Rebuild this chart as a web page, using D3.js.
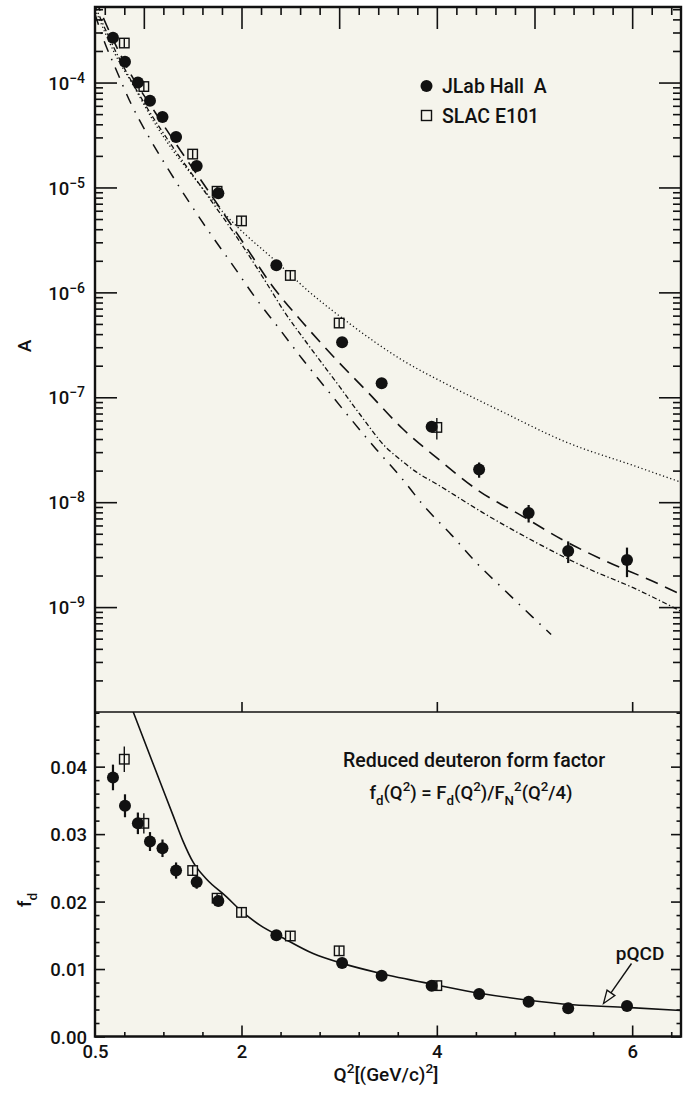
<!DOCTYPE html>
<html>
<head>
<meta charset="utf-8">
<script src="https://cdn.jsdelivr.net/npm/d3@7"></script>
<style>
  body { margin: 0; background: #ffffff; }
  svg text { font-family: Roboto, "DejaVu Sans", sans-serif; font-weight: 500; fill: #111; }
</style>
</head>
<body>
<svg id="chart" width="684" height="1093"></svg>
<script>
// ---- measured data: JLab Hall A ----
const jlabQ2   = [0.684, 0.807, 0.939, 1.063, 1.191, 1.330, 1.541, 1.763, 2.357, 3.030, 3.435, 3.947, 4.433, 4.940, 5.345, 5.947];
const jlabA    = [2.67e-4, 1.58e-4, 1.0e-4, 6.7e-5, 4.7e-5, 3.03e-5, 1.60e-5, 8.8e-6, 1.81e-6, 3.35e-7, 1.36e-7, 5.24e-8, 2.05e-8, 7.9e-9, 3.43e-9, 2.81e-9];
const jlabAErr = [1.2e-5, 7e-6, 4e-6, 2.8e-6, 2e-6, 1.3e-6, 7e-7, 4e-7, 8e-8, 1.6e-8, 7e-9, 4e-9, 3.4e-9, 1.5e-9, 0.8e-9, 0.88e-9];
const jlabFd    = [0.0384, 0.0342, 0.0316, 0.0289, 0.0279, 0.0246, 0.0229, 0.0201, 0.0150, 0.0109, 0.0090, 0.00754, 0.0063, 0.00516, 0.00418, 0.00453];
const jlabFdErr = [0.0019, 0.0017, 0.0016, 0.0014, 0.0013, 0.0012, 0.0010, 0.0008, 0.0005, 0.0004, 0.0004, 0.0004, 0.0004, 0.0004, 0.0004, 0.0005];

// ---- measured data: SLAC E101 ----
const slacQ2    = [0.8, 1.0, 1.5, 1.75, 2.0, 2.5, 3.0, 4.0];
const slacA     = [2.38e-4, 9.16e-5, 2.08e-5, 9.2e-6, 4.8e-6, 1.45e-6, 5.1e-7, 5.16e-8];
const slacAErr  = [8e-6, 3e-6, 7e-7, 3e-7, 1.5e-7, 5e-8, 2e-8, 1.2e-8];
const slacFd    = [0.0411, 0.0316, 0.0246, 0.0205, 0.0184, 0.0149, 0.0127, 0.00754];
const slacFdErr = [0.0019, 0.0015, 0.0006, 0.0005, 0.0004, 0.0004, 0.0004, 0.0003];

// ---- model curves for A(Q^2) ----
const dottedQ2 = [0.5, 0.7, 0.9, 1.1, 1.3, 1.5, 1.7, 1.94, 2.36, 2.70, 3.11, 3.62, 4.13, 4.63, 5.33, 6.01, 6.5];
const dottedA  = [5.01e-4, 1.91e-4, 9.12e-5, 4.27e-5, 2.24e-5, 1.29e-5, 7.59e-6, 4.37e-6, 1.95e-6, 1.00e-6, 5.01e-7, 2.34e-7, 1.29e-7, 7.59e-8, 3.72e-8, 2.24e-8, 1.55e-8];

const dashedQ2 = [0.5, 0.7, 0.83, 1.12, 1.37, 1.71, 2.02, 2.31, 2.62, 2.96, 3.30, 3.65, 4.03, 4.42, 4.87, 5.29, 5.75, 6.20, 6.5];
const dashedA  = [6.31e-4, 2.40e-4, 1.38e-4, 5.13e-5, 2.29e-5, 7.94e-6, 2.95e-6, 1.17e-6, 5.25e-7, 2.34e-7, 1.10e-7, 5.01e-8, 2.51e-8, 1.30e-8, 7.41e-9, 4.37e-9, 2.69e-9, 1.78e-9, 1.32e-9];

const dashDotDotQ2 = [0.5, 0.7, 1.0, 1.3, 1.6, 2.0, 2.26, 2.43, 2.70, 3.01, 3.21, 3.48, 3.62, 3.77, 4.03, 4.47, 5.05, 5.53, 6.01, 6.5];
const dashDotDotA  = [5.37e-4, 2.09e-4, 6.46e-5, 2.40e-5, 9.77e-6, 2.88e-6, 1.21e-6, 6.73e-7, 3.01e-7, 1.24e-7, 6.93e-8, 3.33e-8, 2.57e-8, 2.00e-8, 1.43e-8, 7.96e-9, 3.97e-9, 2.37e-9, 1.53e-9, 9.12e-10];

const dashDotQ2 = [0.5, 0.6, 0.71, 0.87, 1.055, 1.254, 1.469, 1.687, 1.919, 2.137, 2.382, 2.621, 2.870, 3.119, 3.372, 3.627, 3.876, 4.149, 4.415, 4.694, 4.978, 5.17];
const dashDotA  = [4.47e-4, 2.40e-4, 1.37e-4, 6.25e-5, 2.99e-5, 1.47e-5, 7.13e-6, 3.56e-6, 1.77e-6, 9.02e-7, 4.56e-7, 2.33e-7, 1.20e-7, 6.21e-8, 3.25e-8, 1.75e-8, 9.02e-9, 4.88e-9, 2.59e-9, 1.45e-9, 8.07e-10, 5.48e-10];

// ---- pQCD curve for the reduced form factor ----
const pqcdQ2 = [0.85, 0.892, 1.029, 1.165, 1.301, 1.40, 1.506, 1.643, 1.847, 1.983, 2.188, 2.426, 2.733, 3.040, 3.416, 3.996, 4.439, 4.917, 5.394, 5.940, 6.5];
const pqcdFd = [0.0497, 0.0481, 0.0429, 0.0378, 0.0327, 0.0290, 0.0258, 0.0233, 0.0207, 0.0188, 0.0165, 0.0146, 0.0123, 0.0108, 0.00938, 0.00764, 0.00641, 0.00542, 0.00470, 0.00432, 0.00386];

// ---- axis ticks ----
const aMajorTicks  = [1e-9, 1e-8, 1e-7, 1e-6, 1e-5, 1e-4];
const fdMajorTicks = [0, 0.01, 0.02, 0.03, 0.04];
const fdTickLabels = ["0.00", "0.01", "0.02", "0.03", "0.04"];
const q2LabelTicks = [0.5, 2, 4, 6];
const q2TickLabels = ["0.5", "2", "4", "6"];

// ---- layout ----
const L = 95, R = 681, TOP = 7, MID = 712, BOT = 1036.5;
const BG = "#f5f4ec";

const svg = d3.select("#chart");

const x  = d3.scaleLinear().domain([0.5, 6.5]).range([L, R]);
const yA = d3.scaleLog().domain([1e-10, 5.25e-4]).range([MID, TOP]);
const yF = d3.scaleLinear().domain([0, 0.0481]).range([BOT, MID]);

svg.append("rect").attr("x", L).attr("y", TOP).attr("width", R - L).attr("height", BOT - TOP).attr("fill", BG);

const defs = svg.append("defs");
defs.append("clipPath").attr("id", "clipTop").append("rect")
  .attr("x", L).attr("y", TOP).attr("width", R - L).attr("height", MID - TOP);
defs.append("clipPath").attr("id", "clipBot").append("rect")
  .attr("x", L).attr("y", MID).attr("width", R - L).attr("height", BOT - MID);

// ---- helpers ----
function styleAxis(g, w) {
  g.select(".domain").remove();
  g.selectAll(".tick line").attr("stroke", "#111").attr("stroke-width", w || 1.6);
}
function rich(t, parts, fs) {
  let cur = 0;
  parts.forEach(([s, k]) => {
    const target = k === "sub" ? 0.32 * fs : k === "sup" ? -0.42 * fs : 0;
    const ts = t.append("tspan").text(s).attr("dy", target - cur);
    if (k) ts.attr("font-size", (fs * 0.72) + "px");
    cur = target;
  });
}

// ---- top panel axes ----
const aMinor = yA.ticks().filter(v => aMajorTicks.indexOf(v) < 0 && Math.abs(Math.log10(v) - Math.round(Math.log10(v))) > 1e-6);
const q2Minor02 = d3.range(3, 33).map(k => k * 0.2).filter(v => Math.abs(v - Math.round(v)) > 1e-6);
const q2Int = [1, 2, 3, 4, 5, 6];

svg.append("g").attr("transform", `translate(${L},0)`)
  .call(d3.axisLeft(yA).tickValues(aMinor).tickSize(-8).tickSizeOuter(0).tickFormat(""))
  .call(styleAxis);
const gAL = svg.append("g").attr("transform", `translate(${L},0)`)
  .call(d3.axisLeft(yA).tickValues(aMajorTicks).tickSize(-22).tickSizeOuter(0).tickPadding(10))
  .call(styleAxis);
gAL.selectAll(".tick text").each(function (d) {
  const t = d3.select(this).text(null).attr("font-size", "18.5px").attr("font-family", null).attr("fill", "#111").attr("dy", "0.36em");
  t.append("tspan").text("10");
  t.append("tspan").attr("dy", "-0.5em").attr("font-size", "14px").text("\u2212" + Math.round(-Math.log10(d)));
});
svg.append("g").attr("transform", `translate(${R},0)`)
  .call(d3.axisRight(yA).tickValues(aMinor).tickSize(-8).tickSizeOuter(0).tickFormat(""))
  .call(styleAxis);
svg.append("g").attr("transform", `translate(${R},0)`)
  .call(d3.axisRight(yA).tickValues(aMajorTicks).tickSize(-22).tickSizeOuter(0).tickFormat(""))
  .call(styleAxis);
svg.append("g").attr("transform", `translate(0,${TOP})`)
  .call(d3.axisTop(x).tickValues(q2Minor02).tickSize(-8).tickSizeOuter(0).tickFormat(""))
  .call(styleAxis);
svg.append("g").attr("transform", `translate(0,${TOP})`)
  .call(d3.axisTop(x).tickValues(q2Int).tickSize(-22).tickSizeOuter(0).tickFormat(""))
  .call(styleAxis);
svg.append("g").attr("transform", `translate(0,${MID})`)
  .call(d3.axisTop(x).tickValues([2, 4, 6]).tickSize(10).tickSizeOuter(0).tickFormat(""))
  .call(styleAxis);

// ---- bottom panel axes ----
const fdMinor = d3.range(1, 25).filter(k => k % 5 !== 0).map(k => k * 0.002);
const q2Minor04 = d3.range(2, 17).filter(k => k % 5 !== 0).map(k => k * 0.4);

svg.append("g").attr("transform", `translate(${L},0)`)
  .call(d3.axisLeft(yF).tickValues(fdMinor).tickSize(-4.5).tickSizeOuter(0).tickFormat(""))
  .call(styleAxis);
svg.append("g").attr("transform", `translate(${L},0)`)
  .call(d3.axisLeft(yF).tickValues(fdMajorTicks).tickSize(-10).tickSizeOuter(0).tickPadding(8)
    .tickFormat((d, i) => fdTickLabels[i]))
  .call(styleAxis)
  .selectAll(".tick text").attr("font-size", "18.5px").attr("font-family", null).attr("fill", "#111").attr("dy", "0.36em");
svg.append("g").attr("transform", `translate(${R},0)`)
  .call(d3.axisRight(yF).tickValues(fdMinor).tickSize(-4.5).tickSizeOuter(0).tickFormat(""))
  .call(styleAxis);
svg.append("g").attr("transform", `translate(${R},0)`)
  .call(d3.axisRight(yF).tickValues(fdMajorTicks).tickSize(-10).tickSizeOuter(0).tickFormat(""))
  .call(styleAxis);
svg.append("g").attr("transform", `translate(0,${BOT})`)
  .call(d3.axisBottom(x).tickValues(q2Minor04).tickSize(-4.5).tickSizeOuter(0).tickFormat(""))
  .call(styleAxis);
const gXB = svg.append("g").attr("transform", `translate(0,${BOT})`)
  .call(d3.axisBottom(x).tickValues(q2LabelTicks).tickSize(-11).tickSizeOuter(0).tickPadding(8)
    .tickFormat((d, i) => q2TickLabels[i]))
  .call(styleAxis);
gXB.selectAll(".tick text").attr("font-size", "18.5px").attr("font-family", null).attr("fill", "#111");
gXB.selectAll(".tick").filter(d => d === 0.5).select("line").remove();

// ---- model curves (top panel) ----
const lineA = d3.line().x(d => x(d[0])).y(d => yA(d[1])).curve(d3.curveMonotoneX);
const curves = [
  { q: dottedQ2, v: dottedA, dash: "1.2,2.6", w: 1.3 },
  { q: dashedQ2, v: dashedA, dash: "13,8", w: 1.6 },
  { q: dashDotDotQ2, v: dashDotDotA, dash: "5,2.5,1.3,2.5", w: 1.3 },
  { q: dashDotQ2, v: dashDotA, dash: "11,8,1.5,8", w: 1.5 }
];
const gCurves = svg.append("g").attr("clip-path", "url(#clipTop)");
curves.forEach(c => {
  gCurves.append("path")
    .attr("d", lineA(c.q.map((q, i) => [q, c.v[i]])))
    .attr("fill", "none").attr("stroke", "#111")
    .attr("stroke-width", c.w).attr("stroke-dasharray", c.dash);
});

// ---- data points (top panel) ----
const SQ = 9.5;
const gTop = svg.append("g").attr("clip-path", "url(#clipTop)");
slacQ2.forEach((q, i) => {
  const cx = x(q), cy = yA(slacA[i]);
  gTop.append("rect").attr("x", cx - SQ / 2).attr("y", cy - SQ / 2).attr("width", SQ).attr("height", SQ)
    .attr("fill", BG).attr("stroke", "#111").attr("stroke-width", 1.4);
  const y1 = Math.min(yA(slacA[i] + slacAErr[i]), cy - SQ / 2);
  const y2 = Math.max(yA(slacA[i] - slacAErr[i]), cy + SQ / 2);
  gTop.append("line").attr("x1", cx).attr("x2", cx).attr("y1", y1).attr("y2", y2)
    .attr("stroke", "#111").attr("stroke-width", 1.4);
});
jlabQ2.forEach((q, i) => {
  const cx = x(q);
  gTop.append("line").attr("x1", cx).attr("x2", cx)
    .attr("y1", yA(jlabA[i] + jlabAErr[i])).attr("y2", yA(jlabA[i] - jlabAErr[i]))
    .attr("stroke", "#111").attr("stroke-width", 2.2);
  gTop.append("circle").attr("cx", cx).attr("cy", yA(jlabA[i])).attr("r", 6).attr("fill", "#111");
});

// ---- legend ----
svg.append("circle").attr("cx", 426.5).attr("cy", 86).attr("r", 6).attr("fill", "#111");
svg.append("rect").attr("x", 426.5 - 5).attr("y", 115.5 - 5).attr("width", 10).attr("height", 10)
  .attr("fill", BG).attr("stroke", "#111").attr("stroke-width", 1.4);
svg.append("text").attr("x", 442).attr("y", 92.5).attr("font-size", "19.5px").style("white-space", "pre").text("JLab Hall  A");
svg.append("text").attr("x", 442).attr("y", 122.5).attr("font-size", "19.5px").text("SLAC E101");

// ---- pQCD curve (bottom panel) ----
const lineF = d3.line().x(d => x(d[0])).y(d => yF(d[1])).curve(d3.curveMonotoneX);
svg.append("path").attr("clip-path", "url(#clipBot)")
  .attr("d", lineF(pqcdQ2.map((q, i) => [q, pqcdFd[i]])))
  .attr("fill", "none").attr("stroke", "#111").attr("stroke-width", 1.6);

// ---- data points (bottom panel) ----
const gBot = svg.append("g").attr("clip-path", "url(#clipBot)");
slacQ2.forEach((q, i) => {
  const cx = x(q), cy = yF(slacFd[i]);
  gBot.append("rect").attr("x", cx - SQ / 2).attr("y", cy - SQ / 2).attr("width", SQ).attr("height", SQ)
    .attr("fill", BG).attr("stroke", "#111").attr("stroke-width", 1.4);
  const y1 = Math.min(yF(slacFd[i] + slacFdErr[i]), cy - SQ / 2);
  const y2 = Math.max(yF(slacFd[i] - slacFdErr[i]), cy + SQ / 2);
  gBot.append("line").attr("x1", cx).attr("x2", cx).attr("y1", y1).attr("y2", y2)
    .attr("stroke", "#111").attr("stroke-width", 1.4);
});
jlabQ2.forEach((q, i) => {
  const cx = x(q);
  gBot.append("line").attr("x1", cx).attr("x2", cx)
    .attr("y1", yF(jlabFd[i] + jlabFdErr[i])).attr("y2", yF(jlabFd[i] - jlabFdErr[i]))
    .attr("stroke", "#111").attr("stroke-width", 2.2);
  gBot.append("circle").attr("cx", cx).attr("cy", yF(jlabFd[i])).attr("r", 6).attr("fill", "#111");
});

// ---- annotations (bottom panel) ----
svg.append("text").attr("x", 474).attr("y", 766.5).attr("text-anchor", "middle").attr("font-size", "19.5px")
  .text("Reduced deuteron form factor");
rich(svg.append("text").attr("x", 471).attr("y", 799).attr("text-anchor", "middle").attr("font-size", "18.5px"),
  [["f", ""], ["d", "sub"], ["(Q", ""], ["2", "sup"], [") = F", ""], ["d", "sub"], ["(Q", ""], ["2", "sup"],
   [")/F", ""], ["N", "sub"], ["2", "sup"], ["(Q", ""], ["2", "sup"], ["/4)", ""]], 18.5);

svg.append("text").attr("x", 640).attr("y", 960).attr("text-anchor", "middle").attr("font-size", "19px").text("pQCD");
// arrow from the label to the curve, hollow head
const tail = [631.5, 963.5], tip = [603.5, 1003.5];
const ang = Math.atan2(tip[1] - tail[1], tip[0] - tail[0]);
const hl = 13, hw = 4.8;
const base = [tip[0] - hl * Math.cos(ang), tip[1] - hl * Math.sin(ang)];
svg.append("line").attr("x1", tail[0]).attr("y1", tail[1]).attr("x2", base[0]).attr("y2", base[1])
  .attr("stroke", "#111").attr("stroke-width", 1.4);
svg.append("path")
  .attr("d", `M${tip[0]},${tip[1]} L${base[0] - hw * Math.sin(ang)},${base[1] + hw * Math.cos(ang)} L${base[0] + hw * Math.sin(ang)},${base[1] - hw * Math.cos(ang)} Z`)
  .attr("fill", BG).attr("stroke", "#111").attr("stroke-width", 1.3);

// ---- frame ----
svg.append("path").attr("d", `M${L},${MID} V${TOP} H${R} V${MID}`).attr("fill", "none").attr("stroke", "#111").attr("stroke-width", 2.4);
svg.append("line").attr("x1", L).attr("x2", R).attr("y1", MID).attr("y2", MID).attr("stroke", "#111").attr("stroke-width", 1.4);
svg.append("path").attr("d", `M${L},${MID} V${BOT} H${R} V${MID}`).attr("fill", "none").attr("stroke", "#111").attr("stroke-width", 2.4);

// ---- axis titles ----
svg.append("text").attr("transform", "translate(31,346) rotate(-90)").attr("text-anchor", "middle").attr("font-size", "19px").text("A");
rich(svg.append("text").attr("transform", "translate(31,900) rotate(-90)").attr("text-anchor", "middle").attr("font-size", "19px"),
  [["f", ""], ["d", "sub"]], 19);
rich(svg.append("text").attr("x", 386).attr("y", 1081).attr("text-anchor", "middle").attr("font-size", "19px"),
  [["Q", ""], ["2", "sup"], ["[(GeV/c)", ""], ["2", "sup"], ["]", ""]], 19);
</script>
</body>
</html>
